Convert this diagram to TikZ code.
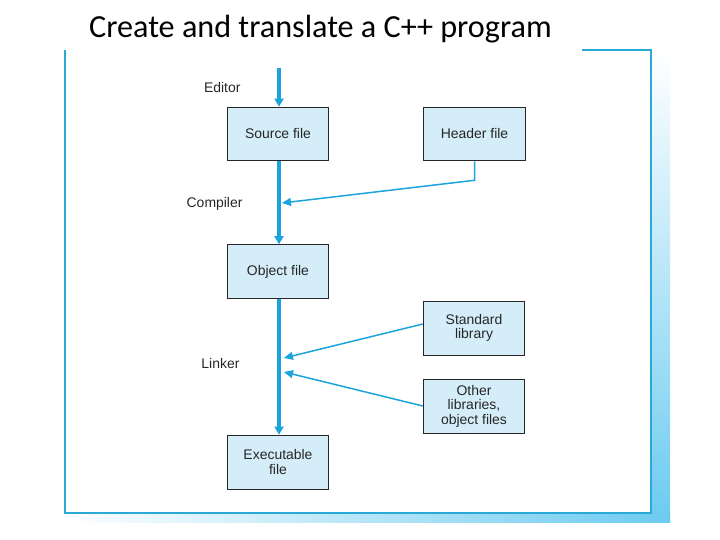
\documentclass[tikz,border=0pt]{standalone}
\usepackage{fontspec}
\setmainfont{Liberation Sans}
\newfontfamily\titlefont{Carlito}
\usepackage{tikz}
\usetikzlibrary{arrows.meta}
\definecolor{boxblue}{HTML}{D4EDF9}
\definecolor{flowblue}{HTML}{1DA3DC}
\definecolor{framblue}{HTML}{2BA9D6}
\definecolor{shadeblue}{HTML}{6CCBF0}
\tikzset{
  filebox/.style={draw=black!85, fill=boxblue, line width=0.8, minimum width=102, minimum height=54,
    align=center, inner sep=0, font=\fontsize{14}{14.5}\selectfont, text=black!85},
  steplabel/.style={anchor=east, font=\fontsize{14}{15}\selectfont, text=black!85},
  mainflow/.style={flowblue, line width=3.2, -{Triangle[length=8,width=9]}},
  sideflow/.style={flowblue, line width=1.5, -{Triangle[length=9,width=8]}}
}
\begin{document}
\begin{tikzpicture}[x=1bp, y=-1bp]
			%%%%% START %%%%%
			\useasboundingbox (0, 0) rectangle (720, 540);
			
			\shade[top color=white, bottom color=shadeblue] (651, 50) rectangle (670, 522);
			\shade[left color=white, right color=shadeblue] (65, 513) rectangle (670, 522);
			\draw[framblue, line width=2.2] (582, 50) -- (651, 50) -- (651, 513) -- (65, 513) -- (65, 50);
			
			\node[font=\titlefont\fontsize{32.3}{36}\selectfont, text=black] (title) at (320.5, 29) {Create and translate a C++ program};
			
			\node[filebox] (source) at (278, 134) {Source file};
			\node[filebox] (header) at (474.5, 134) {Header file};
			\node[filebox] (object) at (278, 271.5) {Object file};
			\node[filebox] (stdlib) at (474, 328) {Standard\\library};
			\node[filebox] (otherlib) at (474, 406) {Other\\libraries,\\object files};
			\node[filebox] (exe) at (278, 462) {Executable\\file};
			
			\node[steplabel] (editor) at (244, 88) {Editor};
			\node[steplabel] (compiler) at (246, 204) {Compiler};
			\node[steplabel] (linker) at (243, 364) {Linker};
			
			\coordinate (start) at (279, 68);
			\coordinate (comp) at (282, 203);
			\coordinate (link1) at (284, 358);
			\coordinate (link2) at (284, 372);
			
			\draw[mainflow] (start) -- (source.north -| start);
			\draw[mainflow] (source.south -| start) -- (object.north -| start);
			\draw[mainflow] (object.south -| start) -- (exe.north -| start);
			
			\draw[sideflow] (header.south) -- ++(0, 19) -- (comp);
			\draw[sideflow] (stdlib.west |- 0, 324) -- (link1);
			\draw[sideflow] (otherlib.west) -- (link2);
			%%%%% END %%%%%
		\end{tikzpicture}
\end{document}
